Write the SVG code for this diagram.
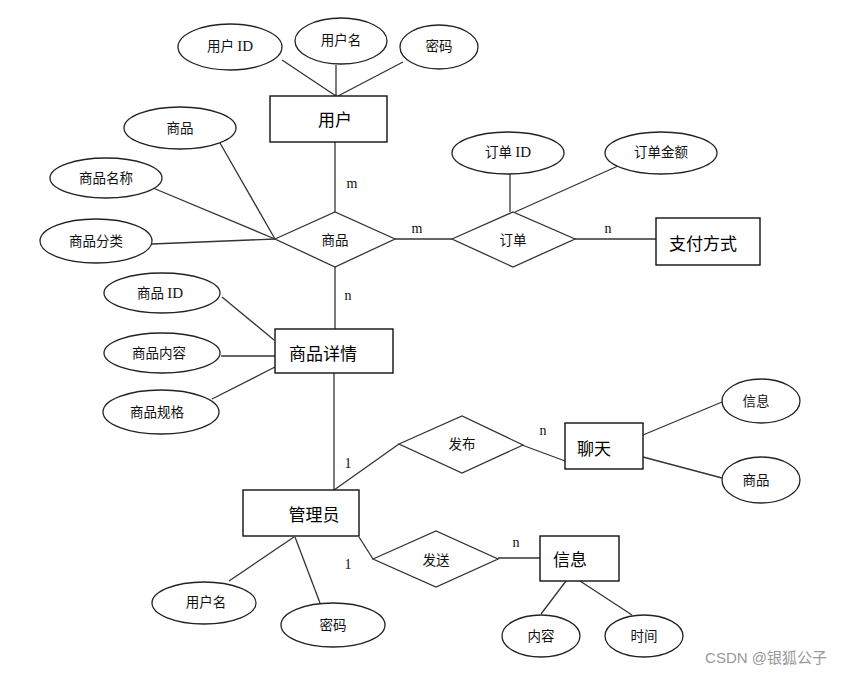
<svg xmlns="http://www.w3.org/2000/svg" width="843" height="674" viewBox="0 0 843 674">
<style>
.e{fill:#fff;stroke:#222;stroke-width:1.3}
.r{fill:#fff;stroke:#111;stroke-width:1.4}
.d{fill:#fff;stroke:#333;stroke-width:1.3}
.l{stroke:#333;stroke-width:1.3;fill:none}
.t{font-family:"Liberation Serif","Noto Sans CJK SC",serif;font-size:13.5px;fill:#111;text-anchor:middle;dominant-baseline:central}
.id{font-size:15px}
.b{font-family:"Noto Sans CJK SC",sans-serif;font-size:17px;fill:#000;text-anchor:middle;dominant-baseline:central}
.c{font-family:"Liberation Serif",serif;font-size:14px;fill:#111;text-anchor:middle;dominant-baseline:central}
.w{font-family:"Liberation Sans","Noto Sans CJK SC",sans-serif;font-size:15px;fill:#999;text-anchor:end}
</style>
<rect width="843" height="674" fill="#fff"/>
<g id="connectors">
<line class="l" x1="282" y1="60" x2="336" y2="96"/>
<line class="l" x1="336" y1="65" x2="336" y2="96"/>
<line class="l" x1="403" y1="62" x2="338" y2="96"/>
<line class="l" x1="335" y1="142" x2="335" y2="212"/>
<line class="l" x1="220" y1="143" x2="275" y2="239"/>
<line class="l" x1="153" y1="188" x2="275" y2="239"/>
<line class="l" x1="152" y1="244" x2="275" y2="239"/>
<line class="l" x1="395" y1="239" x2="452" y2="239"/>
<line class="l" x1="510" y1="174" x2="510" y2="212"/>
<line class="l" x1="618" y1="166" x2="515" y2="212"/>
<line class="l" x1="575" y1="239" x2="656" y2="239"/>
<line class="l" x1="335" y1="267" x2="335" y2="329"/>
<line class="l" x1="222" y1="297" x2="274" y2="340"/>
<line class="l" x1="221" y1="356" x2="275" y2="356"/>
<line class="l" x1="212" y1="399" x2="275" y2="367"/>
<line class="l" x1="334" y1="373" x2="334" y2="490"/>
<line class="l" x1="334" y1="490" x2="399" y2="444"/>
<line class="l" x1="522" y1="445" x2="565" y2="461"/>
<line class="l" x1="643" y1="435" x2="722" y2="402"/>
<line class="l" x1="643" y1="457" x2="722" y2="478"/>
<line class="l" x1="359" y1="537" x2="373" y2="559"/>
<line class="l" x1="498" y1="558" x2="540" y2="558"/>
<line class="l" x1="294" y1="537" x2="229" y2="581"/>
<line class="l" x1="295" y1="537" x2="320" y2="603"/>
<line class="l" x1="566" y1="581" x2="541" y2="614"/>
<line class="l" x1="580" y1="581" x2="632" y2="615"/>
<text class="c" x="352" y="183">m</text>
<text class="c" x="417" y="228">m</text>
<text class="c" x="608" y="228">n</text>
<text class="c" x="348" y="295">n</text>
<text class="c" x="543" y="430">n</text>
<text class="c" x="516" y="542">n</text>
<text class="c" x="348" y="463">1</text>
<text class="c" x="348" y="564">1</text>
</g>
<g id="a-userid"><ellipse class="e" cx="230" cy="47" rx="52" ry="23"/><text class="t" x="230" y="46">用户 <tspan class="id">ID</tspan></text></g>
<g id="a-username"><ellipse class="e" cx="341" cy="41" rx="46" ry="23"/><text class="t" x="341" y="40">用户名</text></g>
<g id="a-pwd"><ellipse class="e" cx="439" cy="47" rx="39" ry="22"/><text class="t" x="439" y="46">密码</text></g>
<g id="user"><rect class="r" x="270" y="96" width="117" height="46"/><text class="b" x="335" y="118">用户</text></g>
<g id="a-goods"><ellipse class="e" cx="180" cy="128" rx="56" ry="21"/><text class="t" x="180" y="128">商品</text></g>
<g id="a-goodsname"><ellipse class="e" cx="106" cy="178" rx="56" ry="20"/><text class="t" x="106" y="178">商品名称</text></g>
<g id="a-goodscat"><ellipse class="e" cx="96" cy="241" rx="56" ry="22"/><text class="t" x="96" y="241">商品分类</text></g>
<g id="r-goods"><polygon class="d" points="275,239 335,212 395,239 335,267"/><text class="t" x="335" y="240">商品</text></g>
<g id="a-orderid"><ellipse class="e" cx="508" cy="153" rx="56" ry="21"/><text class="t" x="508" y="152">订单 <tspan class="id">ID</tspan></text></g>
<g id="a-orderamt"><ellipse class="e" cx="661" cy="153" rx="56" ry="21"/><text class="t" x="661" y="152">订单金额</text></g>
<g id="r-order"><polygon class="d" points="452,239 513,212 575,239 513,267"/><text class="t" x="513" y="240">订单</text></g>
<g id="payment"><rect class="r" x="656" y="218" width="104" height="47"/><text class="b" x="703" y="242">支付方式</text></g>
<g id="a-goodsid"><ellipse class="e" cx="162" cy="293" rx="58" ry="20"/><text class="t" x="160" y="293">商品 <tspan class="id">ID</tspan></text></g>
<g id="a-goodscontent"><ellipse class="e" cx="162" cy="353" rx="58" ry="20"/><text class="t" x="159" y="353">商品内容</text></g>
<g id="a-goodsspec"><ellipse class="e" cx="161" cy="412" rx="58" ry="22"/><text class="t" x="157" y="412">商品规格</text></g>
<g id="goodsdetail"><rect class="r" x="275" y="329" width="118" height="44"/><text class="b" x="323" y="352">商品详情</text></g>
<g id="r-publish"><polygon class="d" points="399,444 462,416 523,445 462,473"/><text class="t" x="462" y="444">发布</text></g>
<g id="chat"><rect class="r" x="565" y="423" width="78" height="46"/><text class="b" x="594" y="447">聊天</text></g>
<g id="a-chatinfo"><ellipse class="e" cx="761" cy="401" rx="39" ry="22"/><text class="t" x="756" y="401">信息</text></g>
<g id="a-chatgoods"><ellipse class="e" cx="761" cy="480" rx="39" ry="23"/><text class="t" x="756" y="480">商品</text></g>
<g id="admin"><rect class="r" x="243" y="490" width="116" height="46"/><text class="b" x="314" y="513">管理员</text></g>
<g id="r-send"><polygon class="d" points="373,559 436,531 498,559 436,587"/><text class="t" x="436" y="560">发送</text></g>
<g id="info"><rect class="r" x="540" y="536" width="79" height="45"/><text class="b" x="570" y="558">信息</text></g>
<g id="a-adminname"><ellipse class="e" cx="204" cy="603" rx="52" ry="21"/><text class="t" x="206" y="602">用户名</text></g>
<g id="a-adminpwd"><ellipse class="e" cx="333" cy="625" rx="52" ry="22"/><text class="t" x="333" y="625">密码</text></g>
<g id="a-content"><ellipse class="e" cx="541" cy="636" rx="39" ry="21"/><text class="t" x="541" y="636">内容</text></g>
<g id="a-time"><ellipse class="e" cx="644" cy="636" rx="39" ry="21"/><text class="t" x="644" y="636">时间</text></g>
<text class="w" x="827" y="663">CSDN @银狐公子</text>
</svg>
